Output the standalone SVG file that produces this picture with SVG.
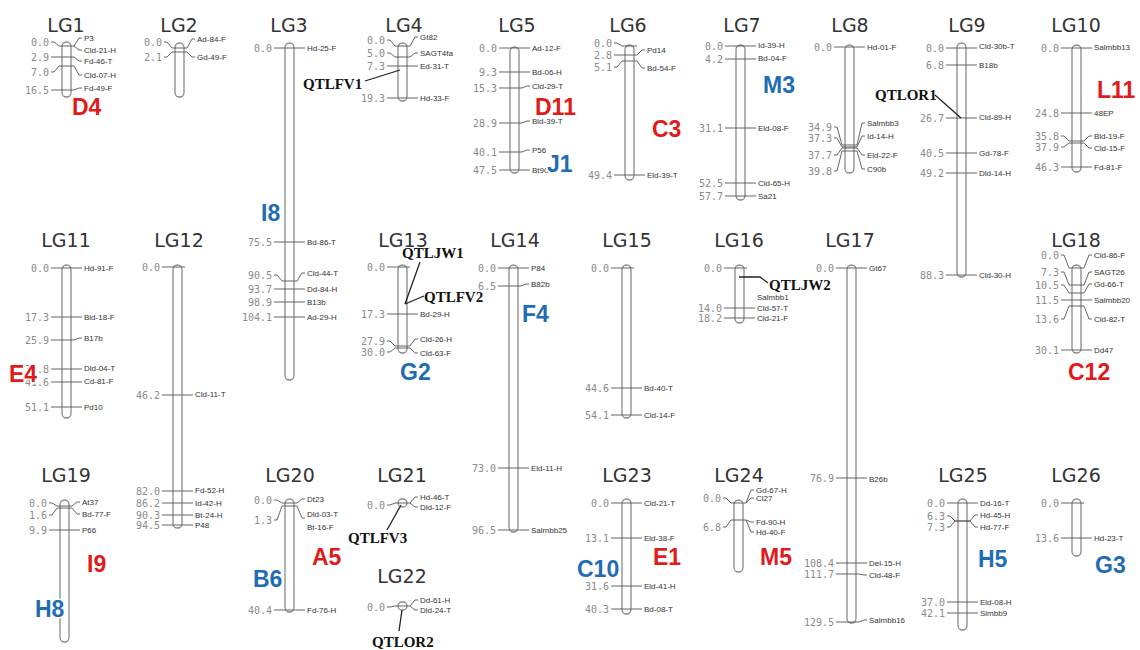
<svg xmlns="http://www.w3.org/2000/svg" width="1140" height="650" viewBox="0 0 1140 650">
<style>
.bg{fill:#fff}
.bar{fill:#fff;stroke:#8a8a8a;stroke-width:1.3}
.mk{fill:none;stroke:#555;stroke-width:0.9}
.ptr{fill:none;stroke:#222;stroke-width:1.3}
.num{font-family:"DejaVu Sans Mono",monospace;font-size:10px;fill:#8a8a8a;text-anchor:end}
.lab{font-family:"Liberation Sans",Arial,sans-serif;font-size:8px;fill:#333}
.title{font-family:"DejaVu Sans",sans-serif;font-size:19px;fill:#333;text-anchor:middle}
.qtl{font-family:"Liberation Serif","Times New Roman",serif;font-weight:bold;font-size:15px;fill:#111}
.red,.blue{font-family:"Liberation Sans",Arial,sans-serif;font-weight:bold;font-size:23px;stroke:#fff;stroke-width:3;paint-order:stroke}
.red{fill:#e01b1b}
.blue{fill:#1f6db3}
</style>
<rect class="bg" x="0" y="0" width="1140" height="650"/>

<!-- Row 1 -->
<g id="LG1">
<text class="title" x="66" y="32">LG1</text>
<rect class="bar" x="62" y="42" width="9" height="55" rx="4.5"/>
<path class="mk" d="M51,42 H54 L59,46 H74 L79,38 H82 M74,46 L79,50 H82 M51,57 H54 L59,57 H74 L79,61 H82 M51,72 H54 L59,66 H74 L79,75 H82 M51,90 H54 L59,90 H74 L79,88 H82"/>
<text class="num" x="49" y="45.5">0.0</text><text class="num" x="49" y="60.5">2.9</text><text class="num" x="49" y="75.5">7.0</text><text class="num" x="49" y="93.5">16.5</text>
<text class="lab" x="84" y="41">P3</text><text class="lab" x="84" y="53">Cld-21-H</text><text class="lab" x="84" y="64">Fd-46-T</text><text class="lab" x="84" y="78">Cld-07-H</text><text class="lab" x="84" y="91">Fd-49-F</text>
</g>

<g id="LG2">
<text class="title" x="179" y="32">LG2</text>
<rect class="bar" x="175" y="43" width="9" height="54" rx="4.5"/>
<path class="mk" d="M164,42 H167 L172,48 H187 L192,39 H195 M164,57 H167 L172,52 H187 L192,57 H195"/>
<text class="num" x="162" y="45.5">0.0</text><text class="num" x="162" y="60.5">2.1</text>
<text class="lab" x="197" y="42">Ad-84-F</text><text class="lab" x="197" y="60">Gd-49-F</text>
</g>

<g id="LG3">
<text class="title" x="289" y="32">LG3</text>
<rect class="bar" x="285" y="43" width="9" height="337" rx="4.5"/>
<path class="mk" d="M274,48 H305 M274,242 H305 M274,275 H277 L282,281 H297 L302,273 H305 M274,289 H305 M274,302 H305 M274,317 H305"/>
<text class="num" x="272" y="51.5">0.0</text><text class="num" x="272" y="245.5">75.5</text><text class="num" x="272" y="278.5">90.5</text><text class="num" x="272" y="292.5">93.7</text><text class="num" x="272" y="305.5">98.9</text><text class="num" x="272" y="320.5">104.1</text>
<text class="lab" x="307" y="51">Hd-25-F</text><text class="lab" x="307" y="245">Bd-86-T</text><text class="lab" x="307" y="276">Cld-44-T</text><text class="lab" x="307" y="292">Dd-84-H</text><text class="lab" x="307" y="305">B13b</text><text class="lab" x="307" y="320">Ad-29-H</text>
</g>

<g id="LG4">
<text class="title" x="404" y="32">LG4</text>
<rect class="bar" x="398" y="43" width="9" height="58" rx="4.5"/>
<path class="mk" d="M387,40 H390 L395,46 H410 L415,37 H418 M387,53 H390 L395,57 H410 L415,53 H418 M387,66 H418 M387,98 H418"/>
<text class="num" x="385" y="43.5">0.0</text><text class="num" x="385" y="56.5">5.0</text><text class="num" x="385" y="69.5">7.3</text><text class="num" x="385" y="101.5">19.3</text>
<text class="lab" x="420" y="40">Gt82</text><text class="lab" x="420" y="56">SAGT4fa</text><text class="lab" x="420" y="69">Ed-31-T</text><text class="lab" x="420" y="101">Hd-33-F</text>
</g>

<g id="LG5">
<text class="title" x="517" y="32">LG5</text>
<rect class="bar" x="510" y="47" width="9" height="126" rx="4.5"/>
<path class="mk" d="M499,48 H530 M499,72 H530 M499,88 H502 L507,88 H522 L527,86 H530 M499,123 H502 L507,123 H522 L527,121 H530 M499,152 H502 L507,152 H522 L527,150 H530 M499,170 H530"/>
<text class="num" x="497" y="51.5">0.0</text><text class="num" x="497" y="75.5">9.3</text><text class="num" x="497" y="91.5">15.3</text><text class="num" x="497" y="126.5">28.9</text><text class="num" x="497" y="155.5">40.1</text><text class="num" x="497" y="173.5">47.5</text>
<text class="lab" x="532" y="51">Ad-12-F</text><text class="lab" x="532" y="75">Bd-06-H</text><text class="lab" x="532" y="89">Cld-29-T</text><text class="lab" x="532" y="124">Bld-39-T</text><text class="lab" x="532" y="153">P56</text><text class="lab" x="532" y="173">Bt90</text>
</g>

<g id="LG6">
<text class="title" x="628" y="32">LG6</text>
<rect class="bar" x="625" y="45" width="9" height="135" rx="4.5"/>
<path class="mk" d="M614,43 H617 L622,46 H637 M614,55 H617 L622,55 H637 L642,50 H645 M614,67 H617 L622,61 H637 L642,68 H645 M614,175 H645"/>
<text class="num" x="612" y="46.5">0.0</text><text class="num" x="612" y="58.5">2.8</text><text class="num" x="612" y="70.5">5.1</text><text class="num" x="612" y="178.5">49.4</text>
<text class="lab" x="647" y="53">Pd14</text><text class="lab" x="647" y="71">Bd-54-F</text><text class="lab" x="647" y="178">Eld-39-T</text>
</g>

<g id="LG7">
<text class="title" x="742" y="32">LG7</text>
<rect class="bar" x="736" y="45" width="9" height="155" rx="4.5"/>
<path class="mk" d="M725,46 H756 M725,59 H756 M725,128 H756 M725,183 H756 M725,196 H756"/>
<text class="num" x="723" y="49.5">0.0</text><text class="num" x="723" y="62.5">4.2</text><text class="num" x="723" y="131.5">31.1</text><text class="num" x="723" y="186.5">52.5</text><text class="num" x="723" y="199.5">57.7</text>
<text class="lab" x="758" y="48">Id-39-H</text><text class="lab" x="758" y="61">Bd-04-F</text><text class="lab" x="758" y="131">Eld-08-F</text><text class="lab" x="758" y="186">Cld-65-H</text><text class="lab" x="758" y="199">Sa21</text>
</g>

<g id="LG8">
<text class="title" x="850" y="32">LG8</text>
<rect class="bar" x="845" y="45" width="9" height="128" rx="4.5"/>
<path class="mk" d="M834,47 H865 M834,127 H837 L842,145 H857 L862,123 H865 M834,138 H837 L842,147 H857 L862,136 H865 M834,155 H837 L842,148 H857 L862,155 H865 M834,171 H837 L842,151 H857 L862,169 H865"/>
<text class="num" x="832" y="50.5">0.0</text><text class="num" x="832" y="130.5">34.9</text><text class="num" x="832" y="141.5">37.3</text><text class="num" x="832" y="158.5">37.7</text><text class="num" x="832" y="174.5">39.8</text>
<text class="lab" x="867" y="50">Hd-01-F</text><text class="lab" x="867" y="126">Salmbb3</text><text class="lab" x="867" y="139">Id-14-H</text><text class="lab" x="867" y="158">Eld-22-F</text><text class="lab" x="867" y="172">C90b</text>
</g>

<g id="LG9">
<text class="title" x="967" y="32">LG9</text>
<rect class="bar" x="957" y="43" width="9" height="234" rx="4.5"/>
<path class="mk" d="M946,48 H977 M946,65 H977 M946,118 H977 M946,153 H977 M946,173 H977 M946,275 H977"/>
<text class="num" x="944" y="51.5">0.0</text><text class="num" x="944" y="68.5">6.8</text><text class="num" x="944" y="121.5">26.7</text><text class="num" x="944" y="156.5">40.5</text><text class="num" x="944" y="176.5">49.2</text><text class="num" x="944" y="278.5">88.3</text>
<text class="lab" x="979" y="49">Cld-30b-T</text><text class="lab" x="979" y="68">B18b</text><text class="lab" x="979" y="120">Cld-89-H</text><text class="lab" x="979" y="156">Gd-78-F</text><text class="lab" x="979" y="176">Dld-14-H</text><text class="lab" x="979" y="278">Cld-30-H</text>
</g>

<g id="LG10">
<text class="title" x="1076" y="32">LG10</text>
<rect class="bar" x="1072" y="45" width="9" height="127" rx="4.5"/>
<path class="mk" d="M1061,48 H1092 M1061,113 H1092 M1061,136 H1064 L1069,141 H1084 L1089,136 H1092 M1061,147 H1064 L1069,143 H1084 L1089,148 H1092 M1061,167 H1092"/>
<text class="num" x="1059" y="51.5">0.0</text><text class="num" x="1059" y="116.5">24.8</text><text class="num" x="1059" y="139.5">35.8</text><text class="num" x="1059" y="150.5">37.9</text><text class="num" x="1059" y="170.5">46.3</text>
<text class="lab" x="1094" y="50">Salmbb13</text><text class="lab" x="1094" y="116">48EP</text><text class="lab" x="1094" y="139">Bld-19-F</text><text class="lab" x="1094" y="151">Cld-15-F</text><text class="lab" x="1094" y="170">Fd-81-F</text>
</g>

<!-- Row 2 -->
<g id="LG11">
<text class="title" x="66" y="247">LG11</text>
<rect class="bar" x="62" y="265" width="9" height="153" rx="4.5"/>
<path class="mk" d="M51,268 H82 M51,317 H82 M51,340 H54 L59,340 H74 L79,338 H82 M51,369 H82 M51,382 H82 M51,407 H82"/>
<text class="num" x="49" y="271.5">0.0</text><text class="num" x="49" y="320.5">17.3</text><text class="num" x="49" y="343.5">25.9</text><text class="num" x="49" y="372.5">34.8</text><text class="num" x="49" y="385.5">41.6</text><text class="num" x="49" y="410.5">51.1</text>
<text class="lab" x="84" y="271">Hd-91-F</text><text class="lab" x="84" y="320">Bld-18-F</text><text class="lab" x="84" y="341">B17b</text><text class="lab" x="84" y="371">Dld-04-T</text><text class="lab" x="84" y="384">Cd-81-F</text><text class="lab" x="84" y="410">Pd10</text>
</g>

<g id="LG12">
<text class="title" x="179" y="247">LG12</text>
<rect class="bar" x="173" y="265" width="9" height="263" rx="4.5"/>
<path class="mk" d="M162,267 H185 M162,395 H193 M162,491 H193 M162,503 H193 M162,515 H193 M162,525 H193"/>
<text class="num" x="160" y="270.5">0.0</text><text class="num" x="160" y="398.5">46.2</text><text class="num" x="160" y="494.5">82.0</text><text class="num" x="160" y="506.5">86.2</text><text class="num" x="160" y="518.5">90.3</text><text class="num" x="160" y="528.5">94.5</text>
<text class="lab" x="195" y="397">Cld-11-T</text><text class="lab" x="195" y="493">Fd-52-H</text><text class="lab" x="195" y="506">Id-42-H</text><text class="lab" x="195" y="518">Bt-24-H</text><text class="lab" x="195" y="528">P48</text>
</g>

<g id="LG13">
<text class="title" x="403" y="247">LG13</text>
<rect class="bar" x="398" y="265" width="9" height="88" rx="4.5"/>
<path class="mk" d="M387,267 H410 M387,314 H418 M387,341 H390 L395,346 H410 L415,339 H418 M387,352 H390 L395,348 H410 L415,353 H418"/>
<text class="num" x="385" y="270.5">0.0</text><text class="num" x="385" y="317.5">17.3</text><text class="num" x="385" y="344.5">27.9</text><text class="num" x="385" y="355.5">30.0</text>
<text class="lab" x="420" y="317">Bd-29-H</text><text class="lab" x="420" y="342">Cld-26-H</text><text class="lab" x="420" y="356">Cld-63-F</text>
</g>

<g id="LG14">
<text class="title" x="515" y="247">LG14</text>
<rect class="bar" x="509" y="265" width="9" height="267" rx="4.5"/>
<path class="mk" d="M498,268 H529 M498,286 H501 L506,286 H521 L526,284 H529 M498,468 H529 M498,530 H529"/>
<text class="num" x="496" y="271.5">0.0</text><text class="num" x="496" y="289.5">6.5</text><text class="num" x="496" y="471.5">73.0</text><text class="num" x="496" y="533.5">96.5</text>
<text class="lab" x="531" y="271">P84</text><text class="lab" x="531" y="287">B82b</text><text class="lab" x="531" y="471">Eld-11-H</text><text class="lab" x="531" y="533">Salmbb25</text>
</g>

<g id="LG15">
<text class="title" x="627" y="247">LG15</text>
<rect class="bar" x="622" y="265" width="9" height="153" rx="4.5"/>
<path class="mk" d="M611,268 H634 M611,388 H642 M611,415 H642"/>
<text class="num" x="609" y="271.5">0.0</text><text class="num" x="609" y="391.5">44.6</text><text class="num" x="609" y="418.5">54.1</text>
<text class="lab" x="644" y="391">Bd-40-T</text><text class="lab" x="644" y="418">Cld-14-F</text>
</g>

<g id="LG16">
<text class="title" x="739" y="247">LG16</text>
<rect class="bar" x="735" y="265" width="9" height="58" rx="4.5"/>
<path class="mk" d="M724,268 H747 M724,308 H755 M724,318 H755"/>
<text class="num" x="722" y="271.5">0.0</text><text class="num" x="722" y="311.5">14.0</text><text class="num" x="722" y="321.5">18.2</text>
<text class="lab" x="757" y="300">Salmbb1</text><text class="lab" x="757" y="311">Cld-57-T</text><text class="lab" x="757" y="321">Cld-21-F</text>
</g>

<g id="LG17">
<text class="title" x="850" y="247">LG17</text>
<rect class="bar" x="847" y="265" width="9" height="358" rx="4.5"/>
<path class="mk" d="M836,268 H867 M836,478 H867 M836,563 H867 M836,574 H839 L844,574 H859 L864,575 H867 M836,622 H839 L844,622 H859 L864,620 H867"/>
<text class="num" x="834" y="271.5">0.0</text><text class="num" x="834" y="481.5">76.9</text><text class="num" x="834" y="566.5">108.4</text><text class="num" x="834" y="577.5">111.7</text><text class="num" x="834" y="625.5">129.5</text>
<text class="lab" x="869" y="271">Gt67</text><text class="lab" x="869" y="482">B26b</text><text class="lab" x="869" y="566">Del-15-H</text><text class="lab" x="869" y="578">Cld-48-F</text><text class="lab" x="869" y="623">Salmbb16</text>
</g>

<g id="LG18">
<text class="title" x="1076" y="247">LG18</text>
<rect class="bar" x="1072" y="265" width="9" height="88" rx="4.5"/>
<path class="mk" d="M1061,255 H1064 L1069,268 H1084 L1089,255 H1092 M1061,272 H1064 L1069,285 H1084 L1089,272 H1092 M1061,285 H1064 L1069,293 H1084 L1089,284 H1092 M1061,300 H1092 M1061,319 H1064 L1069,306 H1084 L1089,319 H1092 M1061,350 H1092"/>
<text class="num" x="1059" y="258.5">0.0</text><text class="num" x="1059" y="275.5">7.3</text><text class="num" x="1059" y="288.5">10.5</text><text class="num" x="1059" y="303.5">11.5</text><text class="num" x="1059" y="322.5">13.6</text><text class="num" x="1059" y="353.5">30.1</text>
<text class="lab" x="1094" y="258">Cld-86-F</text><text class="lab" x="1094" y="275">SAGT26</text><text class="lab" x="1094" y="287">Gd-66-T</text><text class="lab" x="1094" y="303">Salmbb20</text><text class="lab" x="1094" y="322">Cld-82-T</text><text class="lab" x="1094" y="353">Dd47</text>
</g>

<!-- Row 3 -->
<g id="LG19">
<text class="title" x="66" y="482">LG19</text>
<rect class="bar" x="60" y="500" width="9" height="142" rx="4.5"/>
<path class="mk" d="M49,503 H52 L57,506 H72 L77,502 H80 M49,515 H52 L57,508 H72 L77,514 H80 M49,530 H80"/>
<text class="num" x="47" y="506.5">0.0</text><text class="num" x="47" y="518.5">1.6</text><text class="num" x="47" y="533.5">9.9</text>
<text class="lab" x="82" y="505">At37</text><text class="lab" x="82" y="517">Bd-77-F</text><text class="lab" x="82" y="533">P66</text>
</g>

<g id="LG20">
<text class="title" x="290" y="482">LG20</text>
<rect class="bar" x="285" y="499" width="9" height="113" rx="4.5"/>
<path class="mk" d="M274,500 H277 L282,503 H297 L302,499 H305 M274,520 H277 L282,506 H297 L302,518 H305 M274,610 H305"/>
<text class="num" x="272" y="503.5">0.0</text><text class="num" x="272" y="523.5">1.3</text><text class="num" x="272" y="613.5">40.4</text>
<text class="lab" x="307" y="502">Dt23</text><text class="lab" x="307" y="517">Dld-03-T</text><text class="lab" x="307" y="530">Bt-16-F</text><text class="lab" x="307" y="613">Fd-76-H</text>
</g>

<g id="LG21">
<text class="title" x="402" y="482">LG21</text>
<rect class="bar" x="398" y="499" width="9" height="8" rx="4"/>
<path class="mk" d="M387,505 H390 L395,503 H410 L415,497 H418 M410,503 L415,507 H418"/>
<text class="num" x="385" y="508.5">0.0</text>
<text class="lab" x="420" y="500">Hd-46-T</text><text class="lab" x="420" y="510">Dld-12-F</text>
</g>

<g id="LG22">
<text class="title" x="402" y="583">LG22</text>
<rect class="bar" x="398" y="602" width="9" height="8" rx="4"/>
<path class="mk" d="M387,607 H390 L395,606 H410 L415,600 H418 M410,606 L415,610 H418"/>
<text class="num" x="385" y="610.5">0.0</text>
<text class="lab" x="420" y="603">Dd-61-H</text><text class="lab" x="420" y="613">Dld-24-T</text>
</g>

<g id="LG23">
<text class="title" x="627" y="482">LG23</text>
<rect class="bar" x="622" y="499" width="9" height="115" rx="4.5"/>
<path class="mk" d="M611,503 H642 M611,538 H642 M611,586 H642 M611,609 H642"/>
<text class="num" x="609" y="506.5">0.0</text><text class="num" x="609" y="541.5">13.1</text><text class="num" x="609" y="589.5">31.6</text><text class="num" x="609" y="612.5">40.3</text>
<text class="lab" x="644" y="506">Cld-21-T</text><text class="lab" x="644" y="541">Eld-38-F</text><text class="lab" x="644" y="589">Eld-41-H</text><text class="lab" x="644" y="612">Bd-08-T</text>
</g>

<g id="LG24">
<text class="title" x="739" y="482">LG24</text>
<rect class="bar" x="734" y="500" width="9" height="72" rx="4.5"/>
<path class="mk" d="M723,498 H726 L731,503 H746 L751,498 H754 M746,503 L751,490 H754 M723,527 H726 L731,520 H746 L751,522 H754 M746,520 L751,532 H754"/>
<text class="num" x="721" y="501.5">0.0</text><text class="num" x="721" y="530.5">6.8</text>
<text class="lab" x="756" y="493">Gd-67-H</text><text class="lab" x="756" y="501">Cl27</text><text class="lab" x="756" y="525">Fd-90-H</text><text class="lab" x="756" y="535">Hd-40-F</text>
</g>

<g id="LG25">
<text class="title" x="963" y="482">LG25</text>
<rect class="bar" x="958" y="499" width="9" height="131" rx="4.5"/>
<path class="mk" d="M947,503 H978 M947,516 H950 L955,521 H970 L975,515 H978 M947,527 H950 L955,521 H970 L975,527 H978 M947,602 H978 M947,613 H978"/>
<text class="num" x="945" y="506.5">0.0</text><text class="num" x="945" y="519.5">6.3</text><text class="num" x="945" y="530.5">7.3</text><text class="num" x="945" y="605.5">37.0</text><text class="num" x="945" y="616.5">42.1</text>
<text class="lab" x="980" y="506">Dd-16-T</text><text class="lab" x="980" y="518">Hd-45-H</text><text class="lab" x="980" y="530">Hd-77-F</text><text class="lab" x="980" y="605">Eld-08-H</text><text class="lab" x="980" y="616">Simbb9</text>
</g>

<g id="LG26">
<text class="title" x="1076" y="482">LG26</text>
<rect class="bar" x="1072" y="499" width="9" height="57" rx="4.5"/>
<path class="mk" d="M1061,503 H1084 M1061,538 H1092"/>
<text class="num" x="1059" y="506.5">0.0</text><text class="num" x="1059" y="541.5">13.6</text>
<text class="lab" x="1094" y="541">Hd-23-T</text>
</g>

<!-- QTL pointers -->
<g id="connectors">
<path class="ptr" d="M365,81 L400,70"/>
<path class="ptr" d="M935,95 L961,118"/>
<path class="ptr" d="M420,262 L405,304"/>
<path class="ptr" d="M424,296 L405,304"/>
<path class="ptr" d="M739,277 H760 L768,283"/>
<path class="ptr" d="M387,530 L401,505"/>
<path class="ptr" d="M402,610 L399,631"/>
</g>

<g id="QTLFV1"><text class="qtl" x="303" y="89">QTLFV1</text></g>
<g id="QTLOR1"><text class="qtl" x="875" y="100">QTLOR1</text></g>
<g id="QTLJW1"><text class="qtl" x="402" y="258">QTLJW1</text></g>
<g id="QTLFV2"><text class="qtl" x="424" y="302">QTLFV2</text></g>
<g id="QTLJW2"><text class="qtl" x="769" y="290">QTLJW2</text></g>
<g id="QTLFV3"><text class="qtl" x="348" y="543">QTLFV3</text></g>
<g id="QTLOR2"><text class="qtl" x="372" y="647">QTLOR2</text></g>

<!-- Group codes -->
<g id="codes">
<text class="red" x="72" y="115">D4</text>
<text class="blue" x="261" y="221">I8</text>
<text class="red" x="535" y="115">D11</text>
<text class="blue" x="547" y="172">J1</text>
<text class="red" x="652" y="137">C3</text>
<text class="blue" x="763" y="93">M3</text>
<text class="red" x="1097" y="98">L11</text>
<text class="red" x="9" y="382">E4</text>
<text class="blue" x="400" y="380">G2</text>
<text class="blue" x="522" y="322">F4</text>
<text class="red" x="1068" y="380">C12</text>
<text class="red" x="87" y="572">I9</text>
<text class="blue" x="35" y="617">H8</text>
<text class="blue" x="253" y="587">B6</text>
<text class="red" x="312" y="565">A5</text>
<text class="blue" x="577" y="577">C10</text>
<text class="red" x="653" y="565">E1</text>
<text class="red" x="760" y="565">M5</text>
<text class="blue" x="978" y="567">H5</text>
<text class="blue" x="1095" y="573">G3</text>
</g>
</svg>
